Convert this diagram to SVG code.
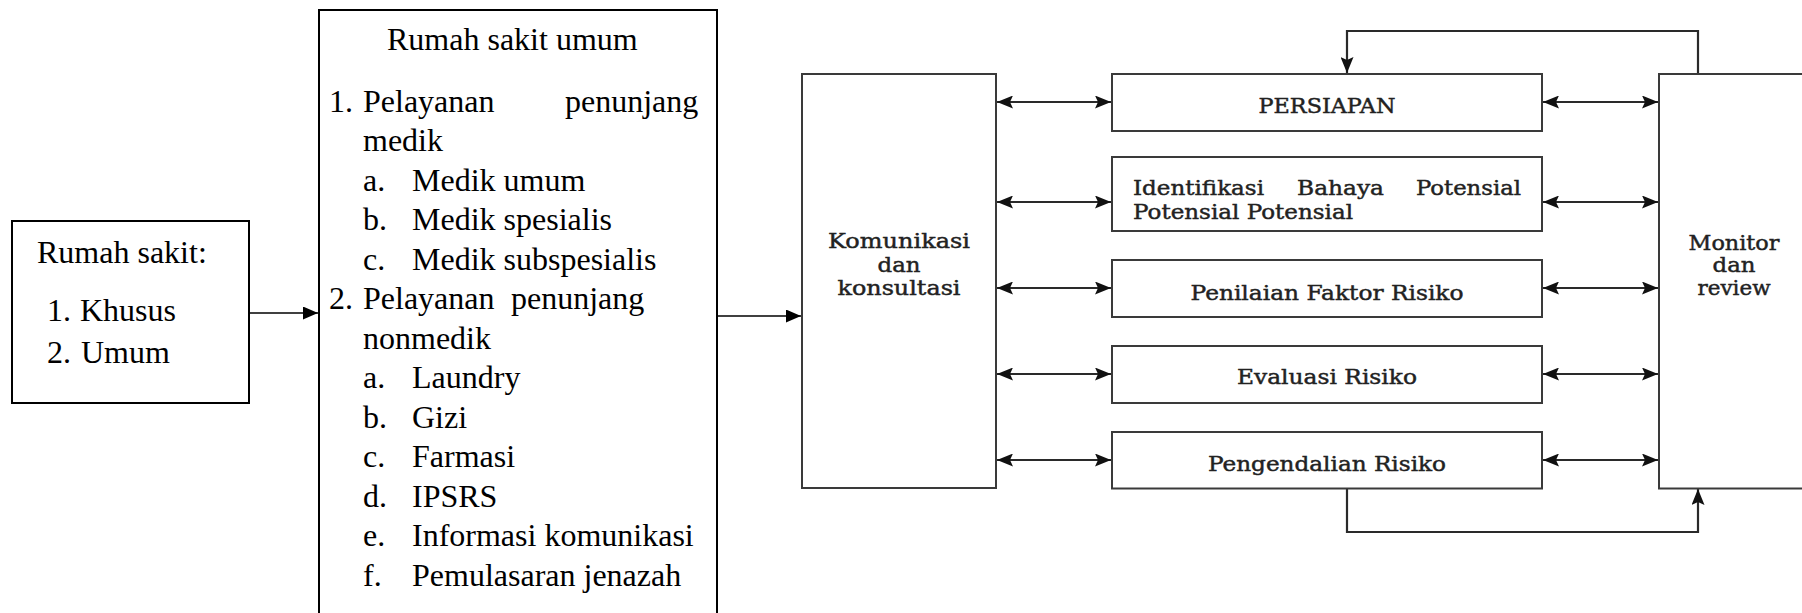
<svg xmlns="http://www.w3.org/2000/svg" width="1802" height="613" viewBox="0 0 1802 613">
<defs>
<style>
.bk{fill:#fff;stroke:#000;stroke-width:2}
.gb{fill:#fff;stroke:#3a3a3a;stroke-width:2}
.tr{font-family:"Liberation Serif","Times New Roman",serif;font-size:32px;fill:#000}
.ts{font-family:"DejaVu Serif",serif;font-size:20.5px;fill:#222;stroke:#222;stroke-width:0.45}
.lk{fill:none;stroke:#000;stroke-width:1.6}
.lg{fill:none;stroke:#2a2a2a;stroke-width:2.2}
</style>
<marker id="ab" viewBox="0 0 15 13" refX="15" refY="6.5" markerWidth="15" markerHeight="13" markerUnits="userSpaceOnUse" orient="auto-start-reverse"><path d="M0,0 L15,6.5 L0,13 z" fill="#000"/></marker>
<marker id="ag" viewBox="0 0 16 13" refX="16" refY="6.5" markerWidth="16" markerHeight="13" markerUnits="userSpaceOnUse" orient="auto-start-reverse"><path d="M0,0 L16,6.5 L0,13 L3,6.5 z" fill="#111"/></marker>
</defs>

<g id="connectors">
<line class="lk" x1="250" y1="313" x2="318" y2="313" marker-end="url(#ab)"/>
<line class="lk" x1="718" y1="316" x2="801" y2="316" marker-end="url(#ab)"/>
<line class="lg" x1="997" y1="102" x2="1111" y2="102" marker-start="url(#ag)" marker-end="url(#ag)"/>
<line class="lg" x1="997" y1="202" x2="1111" y2="202" marker-start="url(#ag)" marker-end="url(#ag)"/>
<line class="lg" x1="997" y1="288" x2="1111" y2="288" marker-start="url(#ag)" marker-end="url(#ag)"/>
<line class="lg" x1="997" y1="374" x2="1111" y2="374" marker-start="url(#ag)" marker-end="url(#ag)"/>
<line class="lg" x1="997" y1="460" x2="1111" y2="460" marker-start="url(#ag)" marker-end="url(#ag)"/>
<line class="lg" x1="1543" y1="102" x2="1658" y2="102" marker-start="url(#ag)" marker-end="url(#ag)"/>
<line class="lg" x1="1543" y1="202" x2="1658" y2="202" marker-start="url(#ag)" marker-end="url(#ag)"/>
<line class="lg" x1="1543" y1="288" x2="1658" y2="288" marker-start="url(#ag)" marker-end="url(#ag)"/>
<line class="lg" x1="1543" y1="374" x2="1658" y2="374" marker-start="url(#ag)" marker-end="url(#ag)"/>
<line class="lg" x1="1543" y1="460" x2="1658" y2="460" marker-start="url(#ag)" marker-end="url(#ag)"/>
<path class="lg" d="M1698,74 L1698,31 L1347,31 L1347,73" marker-end="url(#ag)"/>
<path class="lg" d="M1347,489 L1347,532 L1698,532 L1698,489" marker-end="url(#ag)"/>
</g>

<g id="node-rumah-sakit">
<rect class="bk" x="12" y="221" width="237" height="182"/>
<text class="tr" x="37" y="263">Rumah sakit:</text>
<text class="tr" x="47" y="321">1.</text><text class="tr" x="80" y="321">Khusus</text>
<text class="tr" x="47" y="363">2.</text><text class="tr" x="81" y="363">Umum</text>
</g>

<g id="node-rumah-sakit-umum">
<rect class="bk" x="319" y="10" width="398" height="620"/>
<text class="tr" x="387" y="50">Rumah sakit umum</text>
<text class="tr" x="329" y="112">1.</text><text class="tr" x="363" y="112">Pelayanan</text><text class="tr" x="565" y="112">penunjang</text>
<text class="tr" x="363" y="151">medik</text>
<text class="tr" x="363" y="190.5">a.</text><text class="tr" x="412" y="190.5">Medik umum</text>
<text class="tr" x="363" y="230">b.</text><text class="tr" x="412" y="230">Medik spesialis</text>
<text class="tr" x="363" y="269.5">c.</text><text class="tr" x="412" y="269.5">Medik subspesialis</text>
<text class="tr" x="329" y="309">2.</text><text class="tr" x="363" y="309">Pelayanan</text><text class="tr" x="511" y="309">penunjang</text>
<text class="tr" x="363" y="348.5">nonmedik</text>
<text class="tr" x="363" y="388">a.</text><text class="tr" x="412" y="388">Laundry</text>
<text class="tr" x="363" y="427.5">b.</text><text class="tr" x="412" y="427.5">Gizi</text>
<text class="tr" x="363" y="467">c.</text><text class="tr" x="412" y="467">Farmasi</text>
<text class="tr" x="363" y="506.5">d.</text><text class="tr" x="412" y="506.5">IPSRS</text>
<text class="tr" x="363" y="546">e.</text><text class="tr" x="412" y="546">Informasi komunikasi</text>
<text class="tr" x="363" y="585.5">f.</text><text class="tr" x="412" y="585.5">Pemulasaran jenazah</text>
</g>

<g id="node-komunikasi">
<rect class="gb" x="802" y="74" width="194" height="414"/>
<text class="ts" x="899" y="248" text-anchor="middle" textLength="142" lengthAdjust="spacingAndGlyphs">Komunikasi</text>
<text class="ts" x="899" y="271.5" text-anchor="middle" textLength="43" lengthAdjust="spacingAndGlyphs">dan</text>
<text class="ts" x="899" y="295" text-anchor="middle" textLength="123" lengthAdjust="spacingAndGlyphs">konsultasi</text>
</g>

<g id="node-persiapan">
<rect class="gb" x="1112" y="74" width="430" height="57"/>
<text class="ts" x="1327" y="113" text-anchor="middle" textLength="137" lengthAdjust="spacingAndGlyphs">PERSIAPAN</text>
</g>

<g id="node-identifikasi">
<rect class="gb" x="1112" y="157" width="430" height="74"/>
<text class="ts" x="1133" y="195" textLength="131" lengthAdjust="spacingAndGlyphs">Identifikasi</text>
<text class="ts" x="1297" y="195" textLength="87" lengthAdjust="spacingAndGlyphs">Bahaya</text>
<text class="ts" x="1416" y="195" textLength="105" lengthAdjust="spacingAndGlyphs">Potensial</text>
<text class="ts" x="1133" y="218.5" textLength="220" lengthAdjust="spacingAndGlyphs">Potensial Potensial</text>
</g>

<g id="node-penilaian">
<rect class="gb" x="1112" y="260" width="430" height="57"/>
<text class="ts" x="1327" y="299.5" text-anchor="middle" textLength="273" lengthAdjust="spacingAndGlyphs">Penilaian Faktor Risiko</text>
</g>

<g id="node-evaluasi">
<rect class="gb" x="1112" y="346" width="430" height="57"/>
<text class="ts" x="1327" y="384" text-anchor="middle" textLength="180" lengthAdjust="spacingAndGlyphs">Evaluasi Risiko</text>
</g>

<g id="node-pengendalian">
<rect class="gb" x="1112" y="432" width="430" height="56.5"/>
<text class="ts" x="1327" y="470.5" text-anchor="middle" textLength="238" lengthAdjust="spacingAndGlyphs">Pengendalian Risiko</text>
</g>

<g id="node-monitor">
<rect class="gb" x="1659" y="74" width="160" height="414.5"/>
<text class="ts" x="1734" y="250" text-anchor="middle" textLength="91" lengthAdjust="spacingAndGlyphs">Monitor</text>
<text class="ts" x="1734" y="271.5" text-anchor="middle" textLength="43" lengthAdjust="spacingAndGlyphs">dan</text>
<text class="ts" x="1734" y="295" text-anchor="middle" textLength="73" lengthAdjust="spacingAndGlyphs">review</text>
</g>
</svg>
